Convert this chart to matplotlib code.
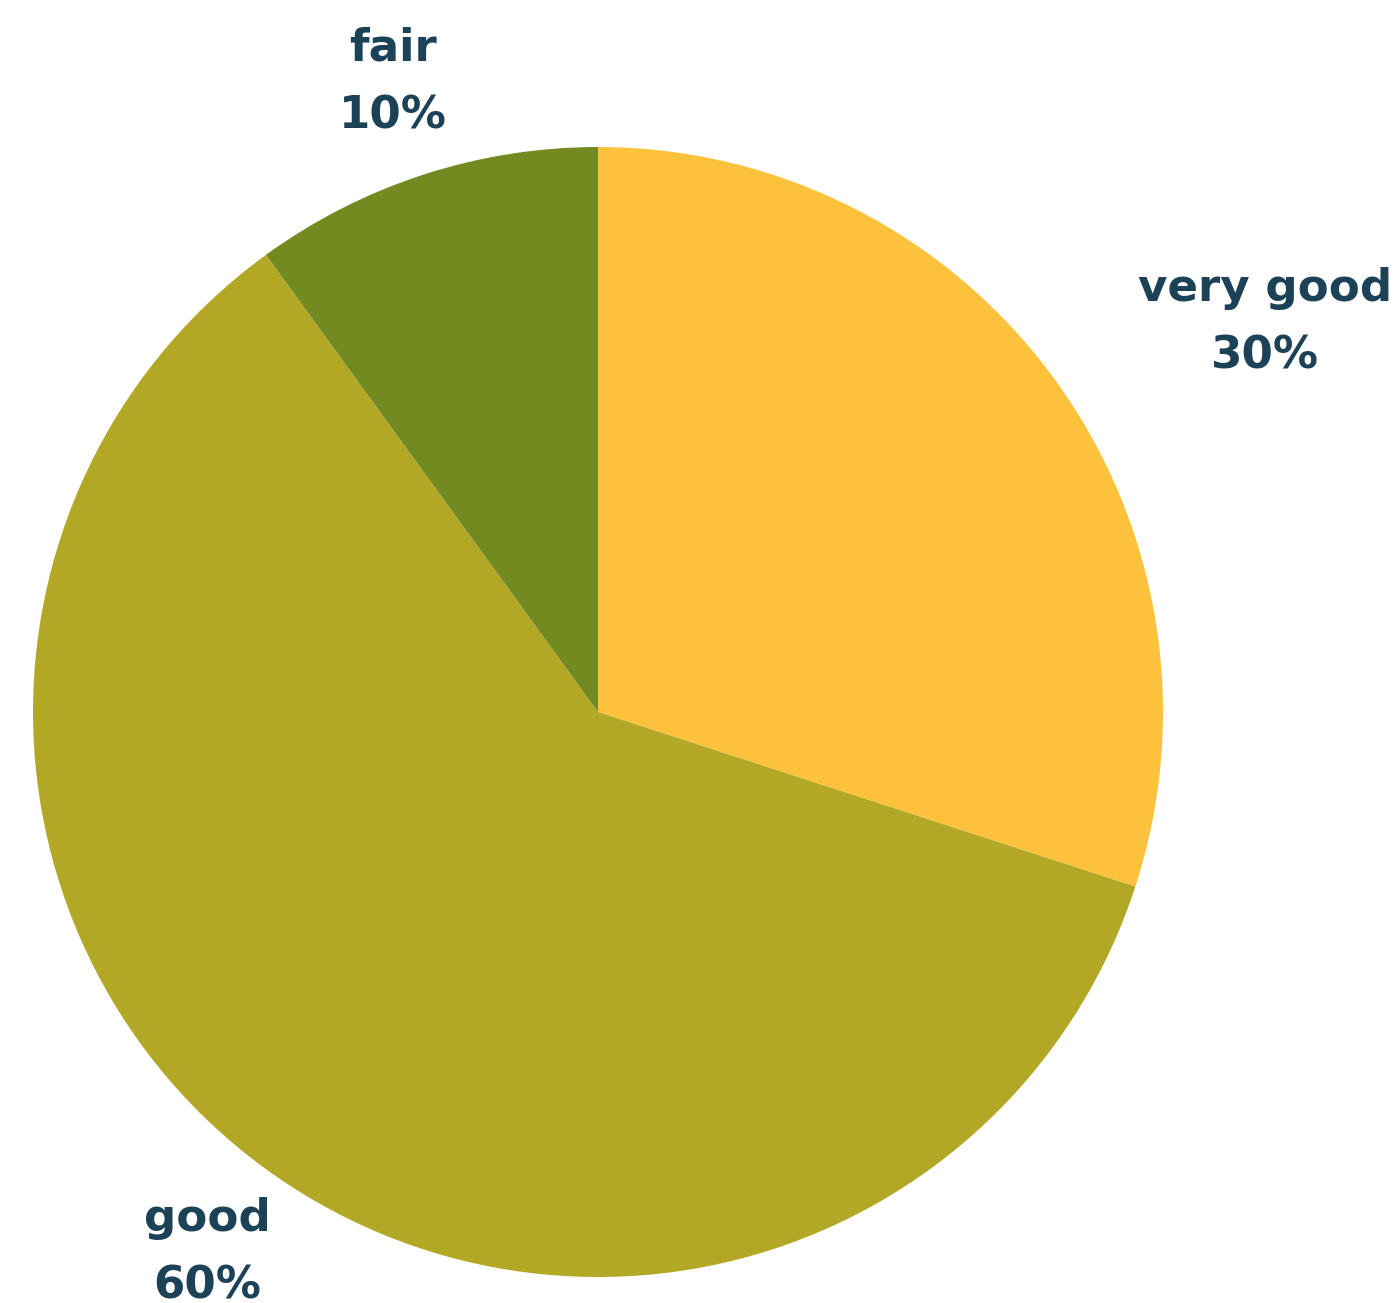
import matplotlib
matplotlib.use("Agg")
import matplotlib.pyplot as plt

labels = ["very good", "good", "fair"]
values = [30, 60, 10]
pct_labels = ["30%", "60%", "10%"]
colors = ["#FDC23C", "#B3A826", "#738A20"]
text_color = "#1B4257"

W, H = 1399, 1303
fig = plt.figure(figsize=(W / 100, H / 100), dpi=100)
ax = fig.add_axes([0, 0, 1, 1])

cx, cy, r = 598, H - 712, 565
ax.pie(values, colors=colors, startangle=90, counterclock=False,
       center=(cx, cy), radius=r, frame=True,
       wedgeprops=dict(linewidth=0))
ax.set_xlim(0, W)
ax.set_ylim(0, H)
ax.set_aspect("equal")
ax.axis("off")

label_pos = [(1265, H - 322), (207, H - 1252), (393, H - 82)]
for lab, pct, (x, y) in zip(labels, pct_labels, label_pos):
    ax.text(x, y, f"{lab}\n{pct}", ha="center", va="center",
            fontsize=32.5, fontweight="bold", family="DejaVu Sans",
            color=text_color, linespacing=1.72)

fig.savefig("out.png", dpi=100)
